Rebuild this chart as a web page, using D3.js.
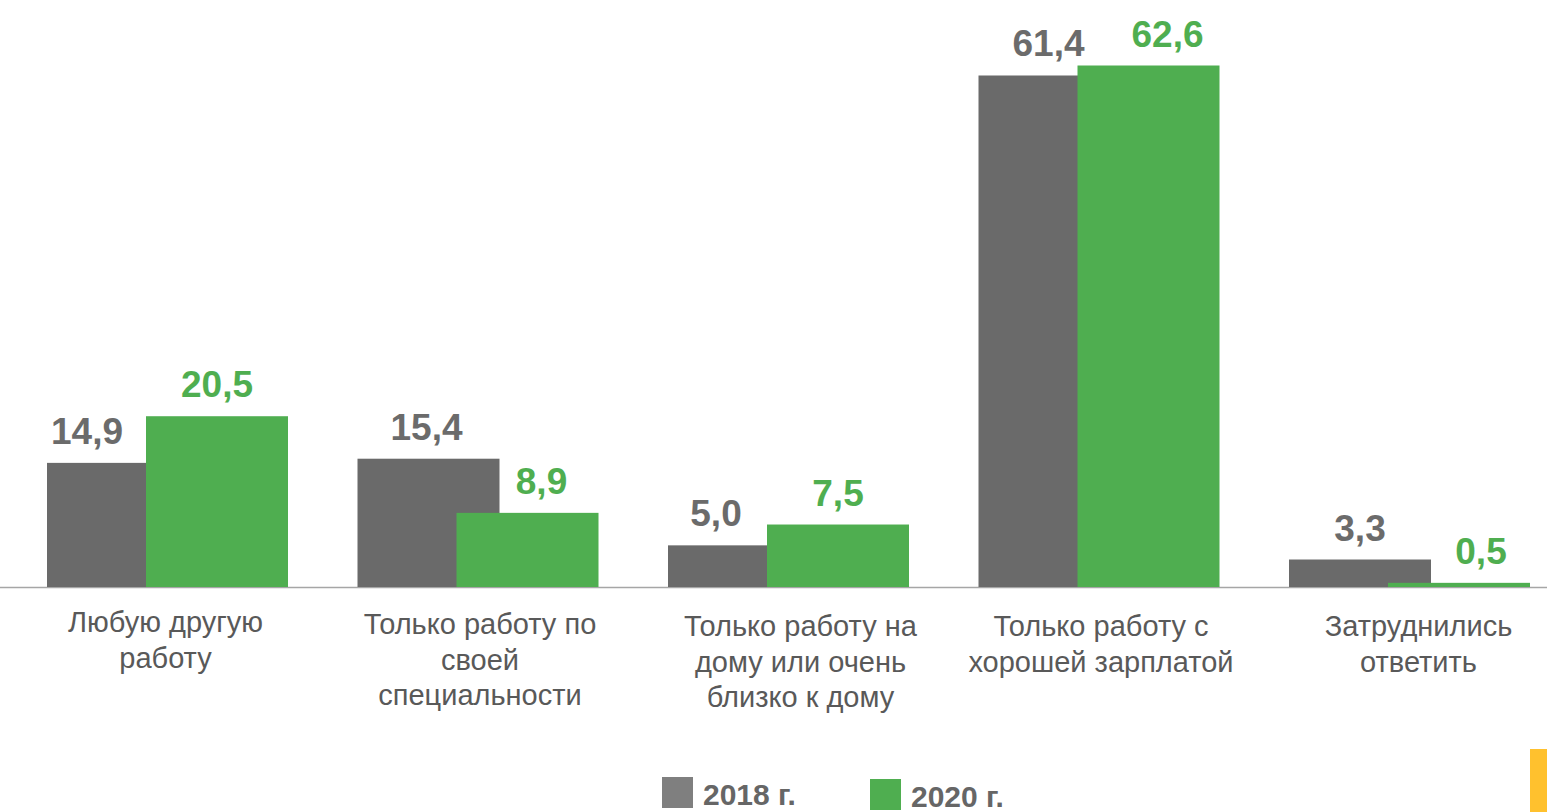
<!DOCTYPE html>
<html>
<head>
<meta charset="utf-8">
<script src="https://cdn.jsdelivr.net/npm/d3@7"></script>
<style>
  html, body { margin: 0; padding: 0; background: #fff; }
  svg { display: block; font-family: "Liberation Sans", Arial, sans-serif; }
</style>
</head>
<body>
<svg id="chart"></svg>
<script>
const categories = [
    ["Любую другую", "работу"],
    ["Только работу по", "своей", "специальности"],
    ["Только работу на", "дому или очень", "близко к дому"],
    ["Только работу с", "хорошей зарплатой"],
    ["Затруднились", "ответить"]
];
const series = ["2018 г.", "2020 г."];
const values2018 = [14.9, 15.4, 5.0, 61.4, 3.3];
const values2020 = [20.5, 8.9, 7.5, 62.6, 0.5];

const W = 1547, H = 812;
const svg = d3.select("#chart").attr("width", W).attr("height", H);

const baseY = 587;
const y = d3.scaleLinear().domain([0, 62.6]).range([baseY, 65.5]);

const x = d3.scaleBand()
    .domain(d3.range(categories.length))
    .range([12.25, 1564.75])
    .padding(0);

const barW = 142, shift = 99;
const groupLeft = i => x(i) + x.bandwidth() / 2 - (shift + barW) / 2;

const colors = ["#6a6a6a", "#4fae50"];
const labelColors = ["#6b6b6b", "#4fae50"];
const fmt = v => d3.format(".1f")(v).replace(".", ",");

// excel moved a few labels sideways
const nudge2018 = [-31, -2, -23, -1, 0];
const nudge2020 = [0, 14, 0, 19, 22];
const catDx = [-2, 2, 12, 2, 9];
const catBase = [632, 634, 636, 636, 636];

// axis line
svg.append("line")
    .attr("x1", 0).attr("x2", W)
    .attr("y1", baseY + 0.5).attr("y2", baseY + 0.5)
    .attr("stroke", "#a6a6a6").attr("stroke-width", 1.5);

const data = categories.map((c, i) => ({ i, v18: values2018[i], v20: values2020[i] }));

svg.selectAll(".bar18").data(data).enter().append("rect")
    .attr("x", d => groupLeft(d.i))
    .attr("y", d => y(d.v18))
    .attr("width", barW)
    .attr("height", d => baseY - y(d.v18))
    .attr("fill", colors[0]);

svg.selectAll(".bar20").data(data).enter().append("rect")
    .attr("x", d => groupLeft(d.i) + shift)
    .attr("y", d => y(d.v20))
    .attr("width", barW)
    .attr("height", d => baseY - y(d.v20))
    .attr("fill", colors[1]);

svg.selectAll(".lab18").data(data).enter().append("text")
    .attr("x", d => groupLeft(d.i) + barW / 2 + nudge2018[d.i])
    .attr("y", d => y(d.v18) - 19)
    .attr("text-anchor", "middle")
    .style("font-size", "37px")
    .style("font-weight", "bold")
    .attr("fill", labelColors[0])
    .text(d => fmt(d.v18));

svg.selectAll(".lab20").data(data).enter().append("text")
    .attr("x", d => groupLeft(d.i) + shift + barW / 2 + nudge2020[d.i])
    .attr("y", d => y(d.v20) - 19)
    .attr("text-anchor", "middle")
    .style("font-size", "37px")
    .style("font-weight", "bold")
    .attr("fill", labelColors[1])
    .text(d => fmt(d.v20));

// category labels
const catG = svg.selectAll(".cat").data(categories).enter().append("text")
    .attr("text-anchor", "middle")
    .style("font-size", "29px")
    .attr("fill", "#595959");
catG.each(function(lines, i) {
    const t = d3.select(this);
    lines.forEach((ln, k) => {
        t.append("tspan")
            .attr("x", x(i) + x.bandwidth() / 2 + catDx[i])
            .attr("y", catBase[i] + k * 35.5)
            .text(ln);
    });
});

// legend (cut by the bottom edge, as in the source)
const legendX = [662, 870];
const leg = svg.selectAll(".leg").data(series).enter().append("g")
    .attr("transform", (d, i) => `translate(${legendX[i]},${777 + i * 2})`);
leg.append("rect")
    .attr("width", 31).attr("height", 31)
    .attr("fill", (d, i) => i === 0 ? "#7f7f7f" : "#4fae50");
leg.append("text")
    .attr("x", 41).attr("y", 28)
    .style("font-size", "30px")
    .style("font-weight", "bold")
    .attr("fill", "#666")
    .text(d => d);

// yellow corner marker
svg.append("rect")
    .attr("x", 1530).attr("y", 749)
    .attr("width", 17).attr("height", 63)
    .attr("fill", "#ffc12e");
</script>
</body>
</html>
